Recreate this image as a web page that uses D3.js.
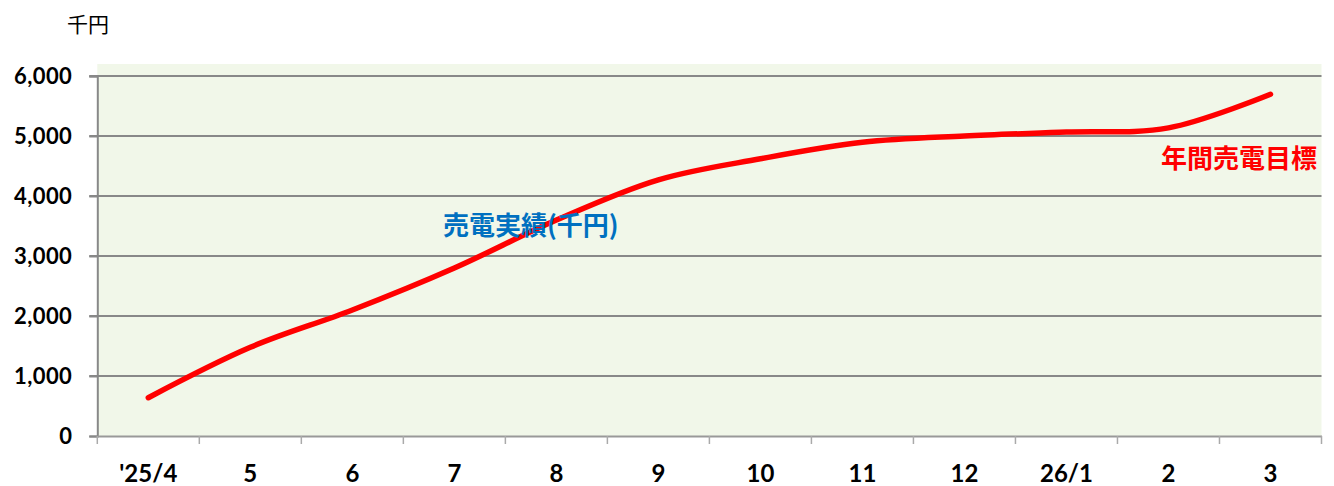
<!DOCTYPE html>
<html><head><meta charset="utf-8">
<script src="https://cdn.jsdelivr.net/npm/d3@7"></script>
<style>body{margin:0;background:#fff}svg{display:block}</style>
</head><body>
<script>
const categories = ["'25/4","5","6","7","8","9","10","11","12","26/1","2","3"];
const salesValues = [638, 1478, 2100, 2800, 3600, 4270, 4620, 4895, 5000, 5065, 5135, 5695];
const yTicks = [0, 1000, 2000, 3000, 4000, 5000, 6000];
const unitLabel = "千円";
const seriesLabel = "売電実績(千円)";
const targetLabel = "年間売電目標";

const W = 1334, H = 486;
const m = {left: 97.3, right: W - 1321.5, top: 64, bottom: H - 436};
const svg = d3.select("body").append("svg").attr("width", W).attr("height", H);

const x = d3.scaleBand().domain(categories).range([m.left, W - m.right]).padding(0);
const y = d3.scaleLinear().domain([0, 6000]).range([436, 76]);

const jp = "'Noto Sans CJK JP', sans-serif";
const num = "Lato, 'Open Sans', sans-serif";

svg.append("rect").attr("x", m.left).attr("y", m.top)
  .attr("width", W - m.right - m.left).attr("height", 436 - m.top).attr("fill", "#F1F7E9");

// gridlines
svg.append("g").selectAll("line").data(yTicks.filter(d => d > 0)).join("line")
  .attr("x1", m.left - 8).attr("x2", W - m.right)
  .attr("y1", d => y(d)).attr("y2", d => y(d))
  .attr("stroke", "#888").attr("stroke-width", 2);

// y axis
const ya = svg.append("g").attr("transform", `translate(${m.left},0)`)
  .call(d3.axisLeft(y).tickValues(yTicks).tickFormat(d3.format(",")).tickSize(8).tickPadding(17));
ya.select(".domain").attr("stroke", "#888").attr("stroke-width", 2);
ya.selectAll(".tick line").attr("stroke", "#888").attr("stroke-width", 2);
ya.selectAll("text").attr("font-family", num).attr("font-weight", "bold").attr("font-size", 22)
  .attr("letter-spacing", 0.4).attr("fill", "#000");

// x axis
const xa = svg.append("g").attr("transform", `translate(0,436)`)
  .call(d3.axisBottom(x).tickSize(0).tickPadding(0));
xa.select(".domain").attr("stroke", "#999").attr("stroke-width", 2);
xa.selectAll("text").attr("y", 46).attr("dy", null)
  .attr("font-family", num).attr("font-weight", "bold").attr("font-size", 24).attr("fill", "#000");
// boundary ticks
const bounds = categories.map(c => x(c)).concat([x(categories[categories.length-1]) + x.bandwidth()]);
svg.append("g").selectAll("line").data(bounds).join("line")
  .attr("x1", d => d).attr("x2", d => d).attr("y1", 436).attr("y2", 444)
  .attr("stroke", "#aaa").attr("stroke-width", 1.5);

// line
const line = d3.line().x((d, i) => x(categories[i]) + x.bandwidth() / 2).y(d => y(d))
  .curve(d3.curveCatmullRom.alpha(0.5));
svg.append("path").datum(salesValues).attr("d", line)
  .attr("fill", "none").attr("stroke", "#FF0000").attr("stroke-width", 5.5).attr("stroke-linecap", "round");

// texts
svg.append("text").attr("x", 67).attr("y", 32).text(unitLabel)
  .attr("font-family", jp).attr("font-size", 21).attr("fill", "#000");
svg.append("text").attr("x", 443).attr("y", 235).text(seriesLabel)
  .attr("font-family", jp).attr("font-weight", "bold").attr("font-size", 26).attr("fill", "#0070C0");
svg.append("text").attr("x", 1317).attr("y", 168).attr("text-anchor", "end").text(targetLabel)
  .attr("font-family", jp).attr("font-weight", "bold").attr("font-size", 26).attr("fill", "#FF0000");
</script>
</body></html>
